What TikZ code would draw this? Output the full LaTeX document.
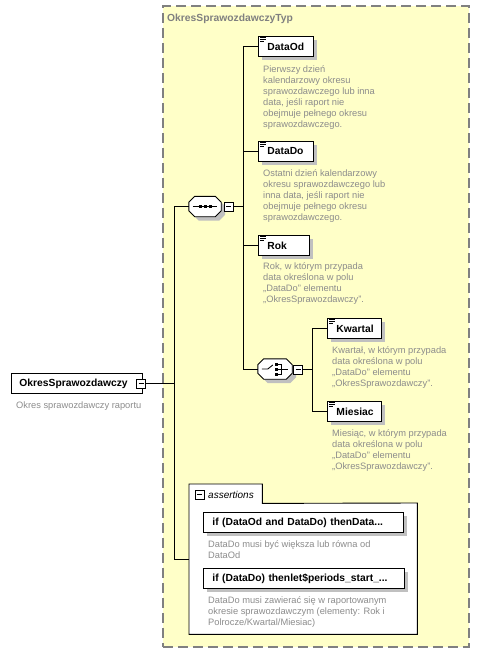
\documentclass[tikz,border=0pt]{standalone}
\usepackage{fontspec}
\setmainfont{Liberation Sans}
\usetikzlibrary{shadows}
\definecolor{bgyellow}{RGB}{255,255,200}
\definecolor{dashgray}{RGB}{128,128,128}
\definecolor{descgray}{RGB}{140,140,140}
\definecolor{shadowgray}{RGB}{192,192,192}
\newcommand\octpath[2]{([shift={(#2+6,#2)}]#1.north west) -- ([shift={(#2-6,#2)}]#1.north east) -- ([shift={(#2,#2+6)}]#1.north east) -- ([shift={(#2,#2-6)}]#1.south east) -- ([shift={(#2-6,#2)}]#1.south east) -- ([shift={(#2+6,#2)}]#1.south west) -- ([shift={(#2,#2-6)}]#1.south west) -- ([shift={(#2,#2+6)}]#1.north west) -- cycle}
\newcommand\docicon[1]{\draw[line width=0.8pt] ([shift={(2,1.8)}]#1.north west) -- ++(6,0) ([shift={(2,3.8)}]#1.north west) -- ++(6,0) ([shift={(2,5.8)}]#1.north west) -- ++(4,0);}
\begin{document}
\begin{tikzpicture}[x=1pt,y=-1pt,
  elem/.style={draw, fill=white, line width=0.9pt, font=\bfseries\fontsize{10.3}{12}\selectfont,
    anchor=north west, minimum height=20pt, inner xsep=9pt, inner ysep=0pt, align=left,
    drop shadow={shadow xshift=4pt, shadow yshift=-4pt, fill=shadowgray, opacity=1}},
  rootbox/.style={draw, fill=white, line width=0.9pt, font=\bfseries\fontsize{10.3}{12}\selectfont,
    anchor=north west, minimum height=20pt, inner xsep=8pt, inner ysep=0pt, align=left},
  desc/.style={anchor=north west, inner sep=0pt, align=left, text=descgray,
    font=\fontsize{9.3}{11}\selectfont},
  minusbox/.style={draw, fill=white, line width=0.8pt, minimum width=9pt, minimum height=9pt, inner sep=0pt,
    path picture={\draw[line width=0.8pt] ([xshift=2pt]path picture bounding box.west) -- ([xshift=-2pt]path picture bounding box.east);}},
  comp/.style={minimum width=32pt, minimum height=20pt, inner sep=0pt},
  conn/.style={line width=0.9pt, black}
]
\useasboundingbox (0,0) rectangle (479,664);
% outer type box
\node[draw=dashgray, fill=bgyellow, line width=1.5pt, dash pattern=on 10pt off 5pt,
  minimum width=306pt, minimum height=641pt, anchor=north west, inner sep=0pt] (typebox) at (162,5) {};
\node[anchor=base west, inner sep=0pt, text=dashgray, font=\bfseries\fontsize{10.3}{12}\selectfont] (typetitle) at (167,21.5) {OkresSprawozdawczyTyp};

% root
\node[rootbox, text width=115pt] (root) at (11,373) {OkresSprawozdawczy};
\node[minusbox] (rootminus) at (141,383.5) {};
\node[desc] (rootdesc) at (16,400) {\rule{0pt}{8pt}Okres sprawozdawczy raportu};

% sequence compositor
\node[comp] (seq) at (205,206.5) {};
\fill[shadowgray] \octpath{seq}{4};
\draw[fill=white, line width=0.9pt] \octpath{seq}{0};
\draw[line width=0.9pt] ([xshift=4pt]seq.west) -- ([xshift=-4pt]seq.east);
\foreach \dx in {-5,0,5} \fill ([xshift=\dx pt]seq.center) +(-1.5,-1.5) rectangle +(1.5,1.5);
\node[minusbox] (seqminus) at (228.5,206.5) {};

% elements of the sequence
\node[elem, text width=37pt] (dataod) at (258,36) {DataOd};
\docicon{dataod}
\node[desc] (dataoddesc) at (263,64) {\rule{0pt}{8pt}Pierwszy dzień\\kalendarzowy okresu\\sprawozdawczego lub inna\\data, jeśli raport nie\\obejmuje pełnego okresu\\sprawozdawczego.};

\node[elem, text width=37pt] (datado) at (258,141) {DataDo};
\docicon{datado}
\node[desc] (datadodesc) at (263,168) {\rule{0pt}{8pt}Ostatni dzień kalendarzowy\\okresu sprawozdawczego lub\\inna data, jeśli raport nie\\obejmuje pełnego okresu\\sprawozdawczego.};

\node[elem, text width=33pt] (rok) at (258,235) {Rok};
\docicon{rok}
\node[desc] (rokdesc) at (263,261) {\rule{0pt}{8pt}Rok, w którym przypada\\data określona w polu\\„DataDo” elementu\\„OkresSprawozdawczy”.};

% choice compositor
\node[comp, minimum width=34pt] (choice) at (275,369) {};
\fill[shadowgray] \octpath{choice}{4};
\draw[fill=white, line width=0.9pt] \octpath{choice}{0};
\draw[line width=0.9pt] ([xshift=4pt]choice.west) -- ++(6,0) -- ++(5,-4);
\foreach \dy in {-5,0,5} \fill ([shift={(1,\dy)}]choice.center) +(-1.5,-1.5) rectangle +(1.5,1.5);
\draw[line width=0.9pt] ([shift={(1,-5)}]choice.center) -- ++(5,0) -- ++(0,10) -- ++(-5,0)
  ([shift={(1,0)}]choice.center) -- ([xshift=-4pt]choice.east);
\node[minusbox] (choiceminus) at (298,369.5) {};

\node[elem, text width=36pt] (kwartal) at (327,318) {Kwartal};
\docicon{kwartal}
\node[desc] (kwartaldesc) at (332,345) {\rule{0pt}{8pt}Kwartał, w którym przypada\\data określona w polu\\„DataDo” elementu\\„OkresSprawozdawczy”.};

\node[elem, text width=36pt] (miesiac) at (327,401) {Miesiac};
\docicon{miesiac}
\node[desc] (miesiacdesc) at (332,428) {\rule{0pt}{8pt}Miesiąc, w którym przypada\\data określona w polu\\„DataDo” elementu\\„OkresSprawozdawczy”.};

% assertions
\node[fill=white, minimum width=73pt, minimum height=19pt, anchor=north west, inner sep=0pt] (astab) at (189,484) {};
\node[fill=white, minimum width=228pt, minimum height=131pt, anchor=north west, inner sep=0pt] (asbox) at (189,503) {};
\draw[line width=0.9pt] (asbox.south west) -- (astab.north west) -- (astab.north east) -- (astab.south east) -- (asbox.north east) -- (asbox.south east) -- cycle;
\node[minusbox] (asminus) at (199.5,494.5) {};
\node[anchor=base west, inner sep=0pt, font=\itshape\fontsize{10}{12}\selectfont] (astitle) at (208,498) {assertions};

\node[elem, text width=182pt] (as1) at (203,512) {\mbox{if (DataOd and DataDo) thenData...}};
\node[desc] (as1desc) at (208,539) {\rule{0pt}{8pt}DataDo musi być większa lub równa od\\DataOd};
\node[elem, text width=183pt] (as2) at (203,568) {\mbox{if (DataDo) thenlet\$periods\_start\_...}};
\node[desc] (as2desc) at (208,595) {\rule{0pt}{8pt}DataDo musi zawierać się w raportowanym\\okresie sprawozdawczym (elementy: Rok i\\Polrocze/Kwartal/Miesiac)};

% connectors
\coordinate (spineA) at (174,206.5);
\coordinate (spineAend) at (174,559);
\coordinate (spineB) at (243,206.5);
\coordinate (spineC) at (312,369.5);
\draw[conn] (rootminus.east) -- (rootminus.east -| spineA);
\draw[conn] (spineA) -- (spineAend) -- (spineAend -| asbox.west);
\draw[conn] (spineA) -- (seq.west);
\draw[conn] (seqminus.east) -- (spineB);
\draw[conn] (dataod.west) -- (dataod.west -| spineB) -- (choice.west -| spineB) -- (choice.west);
\draw[conn] (datado.west) -- (datado.west -| spineB);
\draw[conn] (rok.west) -- (rok.west -| spineB);
\draw[conn] (choiceminus.east) -- (spineC);
\draw[conn] (kwartal.west) -- (kwartal.west -| spineC) -- (miesiac.west -| spineC) -- (miesiac.west);
\end{tikzpicture}
\end{document}
